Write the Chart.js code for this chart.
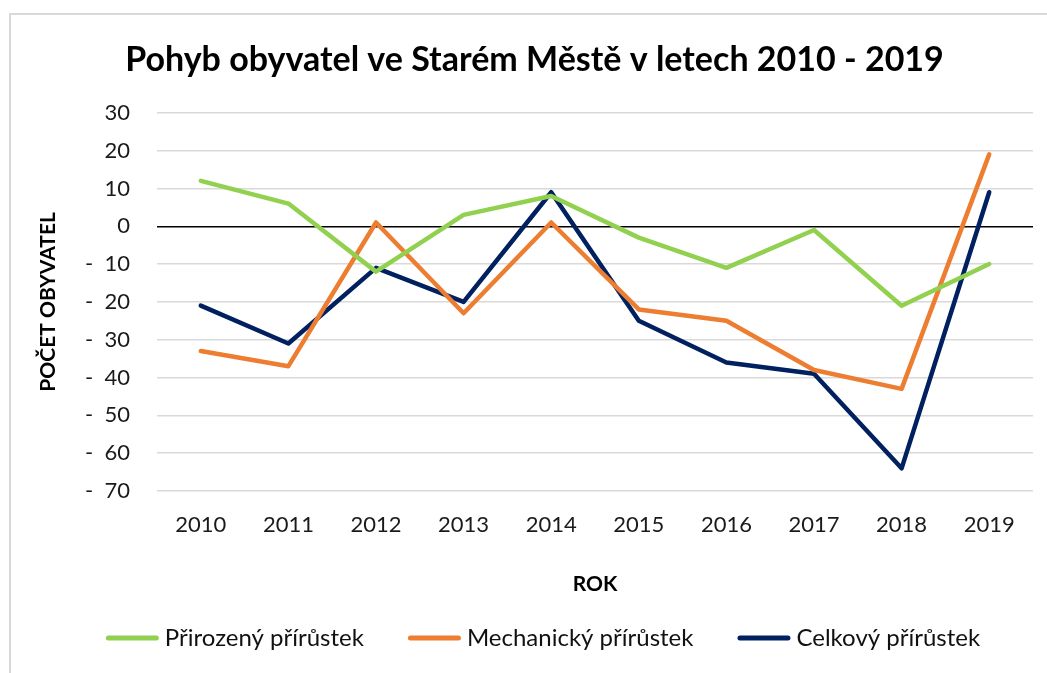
<!DOCTYPE html>
<html>
<head>
<meta charset="utf-8">
<script src="https://cdn.jsdelivr.net/npm/chart.js@4/dist/chart.umd.min.js"></script>
<style>
  html, body { margin: 0; padding: 0; background: #fff; }
  #wrap { width: 1047px; height: 673px; position: relative; }
</style>
</head>
<body>
<div id="wrap"><canvas id="c" width="1047" height="673"></canvas></div>
<script>
const years = ['2010','2011','2012','2013','2014','2015','2016','2017','2018','2019'];
const prirozeny = [12, 6, -12, 3, 8, -3, -11, -1, -21, -10];
const mechanicky = [-33, -37, 1, -23, 1, -22, -25, -38, -43, 19];
const celkovy = [-21, -31, -11, -20, 9, -25, -36, -39, -64, 9];
const seriesNames = ['Přirozený přírůstek', 'Mechanický přírůstek', 'Celkový přírůstek'];
const yMin = -70, yMax = 30, yStep = 10;

const FONT = 'Lato, "Open Sans", sans-serif';

const borderPlugin = {
  id: 'outerBorder',
  beforeDraw(chart) {
    const ctx = chart.ctx;
    ctx.save();
    ctx.fillStyle = '#fff';
    ctx.fillRect(0, 0, chart.width, chart.height);
    ctx.strokeStyle = '#d9d9d9';
    ctx.lineWidth = 2;
    ctx.strokeRect(10, 14, 1200, 800);
    ctx.restore();
  }
};

// Legend drawn from the datasets (label + colour), laid out like the original
const legendPlugin = {
  id: 'rowLegend',
  afterDraw(chart) {
    const ctx = chart.ctx;
    const lineLen = 53, gapText = 6, gapItem = 44, cy = 638, centerX = 543;
    ctx.save();
    ctx.font = '24px ' + FONT;
    const items = chart.data.datasets.map(d => ({
      text: d.label, color: d.borderColor, w: ctx.measureText(d.label).width
    }));
    const total = items.reduce((s, it) => s + lineLen + gapText + it.w, 0) + gapItem * (items.length - 1);
    let x = centerX - total / 2;
    items.forEach(it => {
      ctx.strokeStyle = it.color;
      ctx.lineWidth = 5;
      ctx.lineCap = 'round';
      ctx.beginPath();
      ctx.moveTo(x + 2.5, cy);
      ctx.lineTo(x + lineLen - 2.5, cy);
      ctx.stroke();
      x += lineLen + gapText;
      ctx.fillStyle = '#111';
      ctx.textBaseline = 'middle';
      ctx.textAlign = 'left';
      ctx.fillText(it.text, x, cy);
      x += it.w + gapItem;
    });
    ctx.restore();
  }
};

function ds(label, data, color) {
  return {
    label, data,
    borderColor: color, backgroundColor: color,
    borderWidth: 4.5, pointRadius: 0, pointHoverRadius: 0,
    tension: 0, borderCapStyle: 'round', borderJoinStyle: 'round'
  };
}

new Chart(document.getElementById('c'), {
  type: 'line',
  data: {
    labels: years,
    datasets: [
      ds(seriesNames[0], prirozeny, '#92d050'),
      ds(seriesNames[1], mechanicky, '#ed7d31'),
      ds(seriesNames[2], celkovy, '#002060')
    ]
  },
  options: {
    responsive: false,
    animation: false,
    layout: { padding: { left: 36, right: 14, top: 0, bottom: 55 } },
    plugins: {
      title: {
        display: true,
        text: 'Pohyb obyvatel ve Starém Městě v letech 2010 - 2019',
        color: '#000',
        font: { family: FONT, size: 34, weight: 'bold' },
        padding: { top: 40, bottom: 32 }
      },
      legend: { display: false },
      tooltip: { enabled: false }
    },
    scales: {
      x: {
        type: 'category',
        offset: true,
        grid: { display: false, drawTicks: false },
        border: { display: false },
        ticks: { color: '#1a1a1a', font: { family: FONT, size: 22 }, padding: 21, maxRotation: 0 },
        title: {
          display: true, text: 'ROK', color: '#000',
          font: { family: FONT, size: 21, weight: 'bold' },
          padding: { top: 0, bottom: 21 }
        },
        afterFit(scale) { scale.height = 127; }
      },
      y: {
        min: yMin, max: yMax,
        ticks: {
          stepSize: yStep,
          color: '#1a1a1a',
          font: { family: FONT, size: 22 },
          padding: 27,
          callback: (v) => v < 0 ? '-  ' + Math.abs(v) : String(v)
        },
        grid: {
          drawTicks: false,
          lineWidth: 1.5,
          color: (ctx) => (ctx.tick && ctx.tick.value === 0) ? '#000' : '#d9d9d9'
        },
        border: { display: false },
        title: {
          display: true, text: 'POČET OBYVATEL', color: '#000',
          font: { family: FONT, size: 21, weight: 'bold' },
          padding: { top: 0, bottom: 0 }
        },
        afterFit(scale) { scale.width = 121; }
      }
    }
  },
  plugins: [borderPlugin, legendPlugin]
});
</script>
</body>
</html>
